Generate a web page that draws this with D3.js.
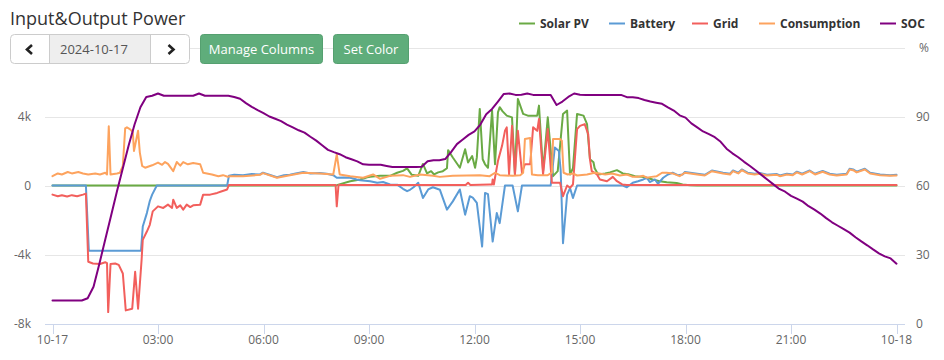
<!DOCTYPE html>
<html><head><meta charset="utf-8">
<script src="https://cdn.jsdelivr.net/npm/d3@7"></script>
<style>
html,body{margin:0;padding:0;background:#fff;}
svg{display:block;font-family:"Open Sans",sans-serif;}
</style></head><body>
<svg id="chart" width="944" height="360"></svg>
<script>
// ---------- data ----------
const chartTitle = "Input&Output Power";
const dateLabel = "2024-10-17";
const buttonLabels = ["Manage Columns", "Set Color"];
const seriesNames = ["Solar PV", "Battery", "Grid", "Consumption", "SOC"];
const seriesColors = ["#6aaa45", "#5b9bd5", "#f25f5c", "#fda35e", "#800080"];
const leftTicks = [-8000, -4000, 0, 4000, 8000];
const rightTicks = [0, 30, 60, 90, 120];
const rightAxisTitle = "%";

// [minute of day, watts]
const solarPV = [[0,0],[479,0],[485,20],[508,250],[525,350],[537,470],[542,510],[559,560],[576,560],[588,740],[598,850],[605,990],[613,620],[624,560],[632,1250],[639,700],[646,830],[651,640],[658,760],[666,830],[673,1000],[675,2050],[683,1620],[695,1030],[704,2100],[709,1330],[716,1710],[721,1030],[724,1630],[729,4440],[734,1520],[738,1230],[743,1030],[750,4340],[755,1230],[760,4240],[763,4540],[768,4300],[775,4050],[784,3950],[789,640],[794,5020],[803,4150],[811,4050],[827,4050],[830,4630],[837,830],[845,3950],[854,540],[862,830],[871,4150],[878,4340],[883,640],[888,1000],[895,4150],[906,4050],[912,3560],[917,1520],[923,1350],[925,1000],[931,640],[943,700],[951,760],[963,890],[973,700],[982,650],[994,540],[1006,500],[1014,450],[1024,350],[1036,250],[1048,190],[1065,150],[1075,60],[1088,20],[1100,0],[1440,0]];

const battery = [[0,0],[57,0],[62,-3780],[151,-3780],[154,-2380],[161,-1600],[166,-900],[170,-530],[178,0],[298,0],[301,560],[310,620],[325,600],[340,660],[354,640],[359,740],[370,620],[383,480],[395,600],[405,620],[415,700],[428,780],[440,700],[456,720],[468,680],[479,600],[485,450],[497,470],[508,450],[519,350],[525,310],[542,250],[554,160],[564,200],[576,60],[588,50],[598,-190],[605,-330],[610,-250],[616,-100],[624,160],[632,-720],[641,-230],[649,-100],[661,-250],[673,-1400],[683,-920],[695,-230],[704,-1690],[712,-620],[717,-700],[724,-1010],[733,-3540],[738,-430],[743,-500],[751,-3250],[758,-1600],[763,-2180],[772,0],[785,0],[794,-1500],[801,0],[850,0],[857,2200],[864,2000],[867,900],[871,-3350],[878,-530],[883,-150],[888,-720],[895,0],[973,0],[980,-100],[990,160],[999,250],[1008,350],[1014,450],[1019,200],[1028,350],[1033,100],[1042,450],[1050,640],[1058,740],[1067,600],[1075,640],[1079,780],[1091,720],[1100,680],[1113,620],[1125,870],[1144,740],[1156,680],[1161,870],[1170,740],[1176,930],[1186,740],[1198,680],[1207,720],[1219,620],[1236,660],[1241,580],[1253,680],[1263,640],[1270,800],[1279,680],[1292,870],[1301,680],[1314,840],[1326,680],[1338,620],[1355,680],[1360,970],[1366,930],[1372,800],[1386,970],[1395,740],[1412,640],[1429,600],[1440,620]];

const grid = [[0,-530],[9,-620],[16,-560],[25,-640],[33,-560],[42,-620],[52,-530],[57,-470],[61,-4420],[69,-4520],[81,-4550],[90,-4450],[93,-4500],[95,-7340],[99,-4550],[107,-4520],[113,-4600],[120,-5100],[125,-7240],[136,-7140],[141,-5000],[146,-7140],[152,-4320],[154,-3150],[161,-2670],[166,-2280],[171,-1500],[180,-1210],[189,-1300],[197,-1110],[204,-1300],[206,-820],[212,-1300],[218,-1150],[223,-1400],[229,-1110],[235,-1250],[240,-1150],[252,-1110],[257,-530],[269,-530],[281,-430],[289,-330],[298,-230],[301,30],[483,30],[485,-1210],[488,30],[705,30],[709,160],[713,30],[746,60],[750,60],[751,350],[753,60],[760,1420],[767,2300],[772,3170],[775,3370],[779,640],[784,3460],[789,640],[794,3170],[801,740],[806,1230],[815,1230],[820,3370],[827,3170],[830,3850],[837,640],[845,3270],[852,160],[866,160],[871,-620],[878,0],[883,-130],[888,60],[895,3270],[900,3460],[908,3560],[914,2980],[917,1520],[920,830],[929,640],[934,350],[946,250],[956,500],[963,250],[972,60],[980,30],[1440,30]];

const consumption = [[0,540],[9,700],[16,640],[26,780],[33,700],[44,780],[52,700],[61,640],[73,700],[81,640],[90,740],[93,640],[96,3430],[99,640],[110,700],[115,740],[120,1130],[124,3310],[127,3370],[132,3270],[137,3100],[139,2000],[146,3170],[149,1910],[153,1130],[158,1030],[170,1170],[180,1330],[187,1200],[192,1360],[197,1250],[206,830],[212,1360],[218,1150],[223,1360],[231,1230],[240,1300],[252,1230],[257,740],[272,640],[283,540],[291,600],[299,510],[303,540],[325,540],[354,620],[359,720],[383,450],[405,600],[428,740],[456,700],[479,640],[485,1800],[490,640],[508,540],[530,450],[547,640],[559,390],[576,560],[598,600],[610,500],[627,640],[649,560],[661,500],[683,560],[707,580],[729,600],[746,540],[755,740],[763,600],[785,560],[798,600],[803,740],[806,2690],[815,2750],[818,640],[828,600],[845,600],[852,740],[854,2690],[866,2690],[869,2600],[872,740],[879,640],[888,700],[895,580],[912,640],[925,740],[943,640],[955,700],[968,580],[980,640],[989,510],[999,510],[1008,560],[1014,450],[1022,500],[1031,540],[1040,740],[1048,740],[1058,700],[1070,540],[1079,740],[1091,680],[1100,640],[1113,580],[1125,830],[1144,700],[1156,640],[1161,830],[1170,700],[1176,890],[1186,700],[1198,640],[1207,680],[1219,580],[1236,620],[1241,540],[1253,640],[1263,600],[1270,760],[1279,640],[1292,830],[1301,640],[1314,800],[1326,640],[1338,580],[1355,640],[1360,930],[1366,890],[1372,760],[1386,930],[1395,700],[1412,600],[1429,560],[1440,580]];

// SOC %, one value every 10 minutes from 00:00 to 24:00
const socPercent = [10,10,10,10,10,10,11,16,26,36.5,47,57.5,67.5,77.5,86.5,94,98.5,99,100,99,
99,99,99,99,99,100,99,99,99,99,99,98.5,97.7,95.8,94.2,92.8,91.5,90,89,88,
86.5,85.3,84,83,81.2,79.5,77.5,75.5,74.5,73.6,72.3,71.4,70.5,69.2,69,69,69,68.5,68,68,
68,68,68,68.2,70.5,71,71,71.5,74.5,78,80,82,83.5,86.5,91,93.3,96.5,99.8,100,99.4,
99.5,100,99.4,99.4,99.4,99.4,95,96.5,98.5,100,99.5,99.4,99.4,99.4,99.4,99.4,99.4,99.4,98.4,98.4,
98,97.2,96.5,96,95.5,94,92.6,90.5,89.5,87,85.3,83.5,82.3,81,79,76,74,72.3,70.3,68.5,
66.5,64.5,62.5,60.5,58.5,57.3,55.5,54.3,53,51,49.5,47.8,45.8,44,42.5,41,39.5,37.5,35.7,34,
32.2,30.5,29.2,28.3,26];

// ---------- chart ----------
const svg = d3.select("#chart");
const plotLeft = 45, plotRight = 905, plotTop = 47.5, plotBottom = 323.5;
const day0 = Date.UTC(2024, 9, 17), day1 = Date.UTC(2024, 9, 18);
const toDate = m => new Date(day0 + m * 60000);

const x = d3.scaleUtc().domain([new Date(day0), new Date(day1)]).range([52.5, 896.5]);
const yL = d3.scaleLinear().domain([-8000, 8000]).range([plotBottom, plotTop]);
const yR = d3.scaleLinear().domain([0, 120]).range([plotBottom, plotTop]);

// gridlines
svg.append("g").selectAll("line").data(leftTicks.slice(1)).join("line")
  .attr("x1", plotLeft).attr("x2", plotRight)
  .attr("y1", d => Math.round(yL(d)) + 0.5).attr("y2", d => Math.round(yL(d)) + 0.5)
  .attr("stroke", "#e6e6e6").attr("stroke-width", 1);

// x axis
const xTicks = d3.utcHour.every(3).range(new Date(day0), new Date(day1 + 1));
const fmtDay = d3.utcFormat("%m-%d"), fmtHour = d3.utcFormat("%H:%M");
const xg = svg.append("g");
xg.append("line").attr("x1", plotLeft).attr("x2", plotRight)
  .attr("y1", Math.round(plotBottom) + 0.5).attr("y2", Math.round(plotBottom) + 0.5)
  .attr("stroke", "#ccd6eb");
xg.selectAll("line.tick").data(xTicks).join("line").attr("class", "tick")
  .attr("x1", d => Math.round(x(d)) + 0.5).attr("x2", d => Math.round(x(d)) + 0.5)
  .attr("y1", Math.round(plotBottom)).attr("y2", Math.round(plotBottom) + 10)
  .attr("stroke", "#ccd6eb");
xg.selectAll("text").data(xTicks).join("text")
  .attr("x", d => x(d)).attr("y", 344)
  .attr("text-anchor", "middle").attr("font-size", 12).attr("fill", "#666")
  .text(d => d.getUTCHours() === 0 ? fmtDay(d) : fmtHour(d));

// left axis labels
const fmtK = v => v === 0 ? "0" : (v < 0 ? "-" : "") + Math.abs(v / 1000) + "k";
svg.append("g").selectAll("text").data(leftTicks).join("text")
  .attr("x", 31).attr("y", d => yL(d)).attr("dy", "0.35em")
  .attr("text-anchor", "end").attr("font-size", 12).attr("fill", "#666")
  .text(fmtK);

// right axis labels
svg.append("g").selectAll("text").data(rightTicks.slice(0, -1)).join("text")
  .attr("x", 916).attr("y", d => yR(d)).attr("dy", "0.35em")
  .attr("text-anchor", "start").attr("font-size", 12).attr("fill", "#666")
  .text(d => d);
svg.append("text").attr("x", 919).attr("y", 51.5).attr("font-size", 12).attr("fill", "#666")
  .text(rightAxisTitle);

// clip
svg.append("defs").append("clipPath").attr("id", "plotclip")
  .append("rect").attr("x", plotLeft).attr("y", plotTop - 5)
  .attr("width", plotRight - plotLeft).attr("height", plotBottom - plotTop + 5);

const lineW = d3.line().x(d => x(toDate(d[0]))).y(d => yL(d[1]));
const lineSoc = d3.line().x((d, i) => x(toDate(i * 10))).y(d => yR(d));
const plot = svg.append("g").attr("clip-path", "url(#plotclip)");
const powerSeries = [solarPV, battery, grid, consumption];
powerSeries.forEach((s, i) => {
  plot.append("path").datum(s).attr("d", lineW)
    .attr("fill", "none").attr("stroke", seriesColors[i]).attr("stroke-width", 2)
    .attr("stroke-linejoin", "round").attr("stroke-linecap", "round");
});
plot.append("path").datum(socPercent).attr("d", lineSoc)
  .attr("fill", "none").attr("stroke", seriesColors[4]).attr("stroke-width", 2)
  .attr("stroke-linejoin", "round").attr("stroke-linecap", "round");

// legend
const legendX = [519, 609, 692, 759, 880];
const lg = svg.append("g").selectAll("g").data(seriesNames).join("g")
  .attr("transform", (d, i) => `translate(${legendX[i]},0)`);
lg.append("line").attr("x1", 0).attr("x2", 16).attr("y1", 23.5).attr("y2", 23.5)
  .attr("stroke", (d, i) => seriesColors[i]).attr("stroke-width", 2);
lg.append("text").attr("x", 21).attr("y", 27.5).attr("font-size", 12)
  .attr("font-weight", "bold").attr("fill", "#333").text(d => d);

// title
svg.append("text").attr("x", 10).attr("y", 24.5).attr("font-size", 18).attr("fill", "#333")
  .text(chartTitle);

// date picker group
const bg = svg.append("g");
bg.append("rect").attr("x", 10.5).attr("y", 34.5).attr("width", 179).attr("height", 29)
  .attr("rx", 4).attr("fill", "#fff").attr("stroke", "#ccc");
bg.append("rect").attr("x", 49.5).attr("y", 35).attr("width", 101).attr("height", 28)
  .attr("fill", "#eee");
bg.append("line").attr("x1", 49.5).attr("x2", 49.5).attr("y1", 35).attr("y2", 63).attr("stroke", "#ccc");
bg.append("line").attr("x1", 150.5).attr("x2", 150.5).attr("y1", 35).attr("y2", 63).attr("stroke", "#ccc");
bg.append("path").attr("d", "M32,45 L27,49.5 L32,54").attr("fill", "none")
  .attr("stroke", "#222").attr("stroke-width", 2.6);
bg.append("path").attr("d", "M168.5,45 L173.5,49.5 L168.5,54").attr("fill", "none")
  .attr("stroke", "#222").attr("stroke-width", 2.6);
bg.append("text").attr("x", 60).attr("y", 53.5).attr("font-size", 13).attr("fill", "#555")
  .text(dateLabel);

// green buttons
const btnX = [200.5, 333.5], btnW = [122, 75];
buttonLabels.forEach((lbl, i) => {
  svg.append("rect").attr("x", btnX[i]).attr("y", 34.5).attr("width", btnW[i]).attr("height", 29)
    .attr("rx", 3).attr("fill", "#5fad7b").attr("stroke", "#55a070");
  svg.append("text").attr("x", btnX[i] + btnW[i] / 2).attr("y", 53.5)
    .attr("text-anchor", "middle").attr("font-size", 13).attr("fill", "#fff").text(lbl);
});
</script>
</body></html>
